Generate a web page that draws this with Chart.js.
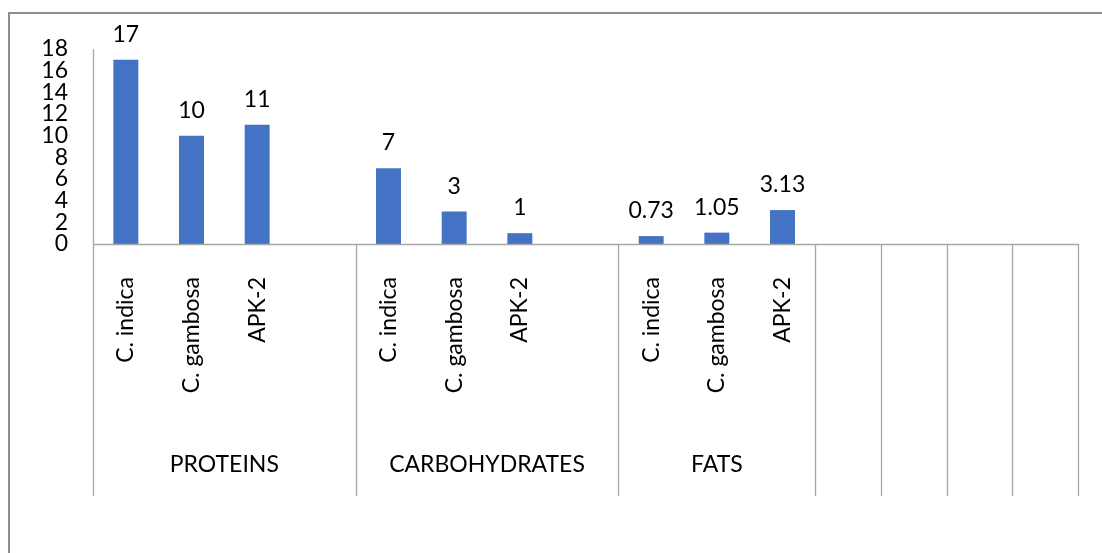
<!DOCTYPE html>
<html>
<head>
<meta charset="utf-8">
<script src="https://cdn.jsdelivr.net/npm/chart.js@4"></script>
<style>
  html, body { margin: 0; padding: 0; background: #fff; }
  #wrap { position: relative; width: 1102px; height: 553px; overflow: hidden; }
  #frame { position: absolute; left: 8px; top: 12px; width: 1200px; height: 700px;
           border-left: 2px solid #8e8e8e; border-top: 2px solid #8e8e8e; }
  canvas { position: absolute; left: 0; top: 0; }
</style>
</head>
<body>
<div id="wrap">
  <div id="frame"></div>
  <canvas id="nutriChart" width="1102" height="553"></canvas>
</div>
<script>
// categories (15 slots, empty ones are spacers like in the excel sheet)
var species = ['C. indica', 'C. gambosa', 'APK-2', '',
               'C. indica', 'C. gambosa', 'APK-2', '',
               'C. indica', 'C. gambosa', 'APK-2',
               '', '', '', ''];
var values = [17, 10, 11, null,
              7, 3, 1, null,
              0.73, 1.05, 3.13,
              null, null, null, null];
var valueLabels = ['17', '10', '11', '',
                   '7', '3', '1', '',
                   '0.73', '1.05', '3.13',
                   '', '', '', ''];
var groupNames = ['PROTEINS', 'CARBOHYDRATES', 'FATS', '', '', '', ''];
var groupStart = [0, 4, 8, 11, 12, 13, 14]; // first slot of each group
var groupEnd = [4, 8, 11, 12, 13, 14, 15];
var yTicks = [0, 2, 4, 6, 8, 10, 12, 14, 16, 18];

var FONT = 'Lato, "Noto Sans", sans-serif';
var LINE = '#a6a6a6';

// labels over bars + the multi level category lines under the axis
var excelAxis = {
    id: 'excelAxis',
    afterDatasetsDraw: function(chart) {
        var ctx = chart.ctx;
        var meta = chart.getDatasetMeta(0);
        ctx.save();
        ctx.fillStyle = '#000';
        ctx.font = '23px ' + FONT;
        ctx.textAlign = 'center';
        ctx.textBaseline = 'alphabetic';
        meta.data.forEach(function(bar, i) {
            if (values[i] === null) return;
            ctx.fillText(valueLabels[i], bar.x, bar.y - 18);
        });
        ctx.restore();
    },
    afterDraw: function(chart) {
        var ctx = chart.ctx;
        var xs = chart.scales.x;
        var area = chart.chartArea;
        var half = (xs.getPixelForValue(1) - xs.getPixelForValue(0)) / 2;
        var bottom = xs.bottom;
        ctx.save();
        ctx.strokeStyle = LINE;
        ctx.lineWidth = 1.3;
        // x axis line
        ctx.beginPath();
        ctx.moveTo(area.left, area.bottom + 0.5);
        ctx.lineTo(area.right, area.bottom + 0.5);
        ctx.stroke();
        // y axis line, runs down through the category area
        ctx.beginPath();
        ctx.moveTo(area.left + 0.5, area.top);
        ctx.lineTo(area.left + 0.5, bottom);
        ctx.stroke();
        ctx.fillStyle = '#000';
        ctx.font = '23px ' + FONT;
        ctx.textAlign = 'center';
        ctx.textBaseline = 'middle';
        for (var g = 0; g < groupNames.length; g++) {
            var x0 = xs.getPixelForValue(groupStart[g]) - half;
            var x1 = xs.getPixelForValue(groupEnd[g] - 1) + half;
            ctx.beginPath();
            ctx.moveTo(Math.round(x1) + 0.5, area.bottom);
            ctx.lineTo(Math.round(x1) + 0.5, bottom);
            ctx.stroke();
            if (groupNames[g]) {
                ctx.fillText(groupNames[g], (x0 + x1) / 2, bottom - 31);
            }
        }
        ctx.restore();
    }
};

var chartCtx = document.getElementById('nutriChart').getContext('2d');
var nutriChart = new Chart(chartCtx, {
    type: 'bar',
    data: {
        labels: species,
        datasets: [{
            label: 'content',
            data: values,
            backgroundColor: '#4472c4',
            borderWidth: 0,
            barPercentage: 0.38,
            categoryPercentage: 1
        }]
    },
    options: {
        responsive: false,
        animation: false,
        layout: {
            padding: { left: 0, top: 49, right: 24, bottom: 57 }
        },
        plugins: {
            legend: { display: false },
            tooltip: { enabled: false }
        },
        scales: {
            x: {
                type: 'category',
                grid: { display: false, drawTicks: false },
                border: { display: false },
                ticks: {
                    autoSkip: false,
                    minRotation: 90,
                    maxRotation: 90,
                    padding: 33,
                    color: '#000',
                    font: { family: FONT, size: 23 }
                },
                afterFit: function(s) {
                    s.height = 252;
                    s.paddingLeft = 0;
                    s.paddingRight = 0;
                }
            },
            y: {
                min: 0,
                max: 18,
                grid: { display: false, drawTicks: false },
                border: { display: false },
                afterBuildTicks: function(s) {
                    s.ticks = yTicks.map(function(v) { return { value: v }; });
                },
                ticks: {
                    autoSkip: false,
                    padding: 25,
                    color: '#000',
                    font: { family: FONT, size: 23, lineHeight: 1 }
                },
                afterFit: function(s) { s.width = 93; }
            }
        }
    },
    plugins: [excelAxis]
});
</script>
</body>
</html>
